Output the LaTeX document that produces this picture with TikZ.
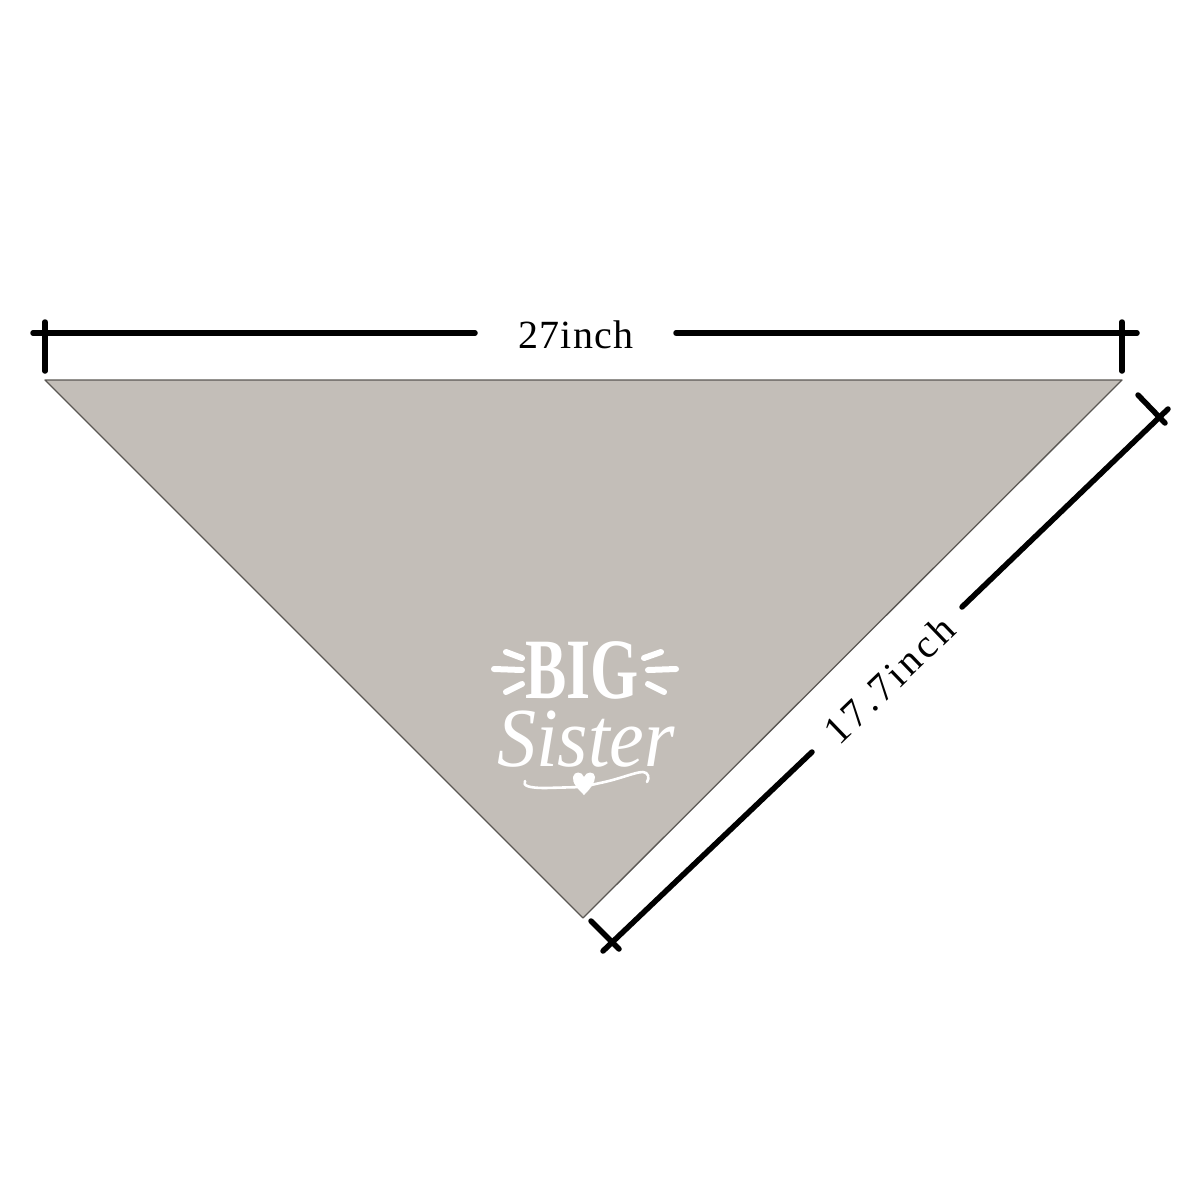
\documentclass[tikz,border=0pt]{standalone}
\usepackage{fontspec}
\setmainfont{Liberation Serif}
\usetikzlibrary{calc}
\definecolor{bandana}{HTML}{C3BEB8}
\definecolor{edgegray}{HTML}{5A5753}
\begin{document}
\begin{tikzpicture}[x=1pt,y=-1pt,
  dimline/.style={line width=5.5pt, line cap=round},
  tickline/.style={line width=5.5pt, line cap=round},
  dimlabel/.style={font=\fontsize{40}{40}\selectfont, inner sep=0pt},
  ray/.style={white, line width=6pt, line cap=round},
  flourish/.style={white, line width=2.6pt, line cap=round, line join=round}]
\useasboundingbox (0,0) rectangle (1200,1200);
% triangle
\coordinate (tl) at (45,380);
\coordinate (tr) at (1122,380);
\coordinate (bt) at (583,918);
\fill[bandana, draw=edgegray, line width=1.3pt, line join=round] (tl) -- (tr) -- (bt) -- cycle;
% top dimension
\coordinate (a1) at (33,333);
\coordinate (a2) at (475,333);
\coordinate (a3) at (676,333);
\coordinate (a4) at (1137,333);
\draw[dimline] (a1) -- (a2);
\draw[dimline] (a3) -- (a4);
\coordinate (k1a) at (45,322);
\coordinate (k1b) at (45,371);
\coordinate (k2a) at (1122,322);
\coordinate (k2b) at (1122,371);
\draw[tickline] (k1a) -- (k1b);
\draw[tickline] (k2a) -- (k2b);
\node[dimlabel, anchor=base] (w) at (576,348) {\addfontfeature{LetterSpace=3}27inch};
% diagonal dimension
\coordinate (c1) at (1159,417);
\coordinate (c2) at (612,943);
\coordinate (p1) at (1168,409);
\coordinate (p2) at (603,951);
\coordinate (g1) at (962,607);
\coordinate (g2) at (812,752);
\draw[dimline] (p1) -- (g1);
\draw[dimline] (g2) -- (p2);
\coordinate (d1a) at (1138,395);
\coordinate (d1b) at (1165,423);
\coordinate (d2a) at (591,921);
\coordinate (d2b) at (619,949);
\draw[tickline] (d1a) -- (d1b);
\draw[tickline] (d2a) -- (d2b);
\node[dimlabel, rotate=43.9] (h) at (889,680) {\addfontfeature{LetterSpace=9}17.7inch};
% logo
\node[white, anchor=base, inner sep=0pt, xscale=0.72, font=\fontsize{86}{86}\selectfont\bfseries] (big) at (582,698) {BIG};
\node[white, anchor=base, inner sep=0pt, xscale=0.93, font=\fontsize{84}{84}\selectfont\itshape] (sis) at (586,766) {Sister};
\coordinate (r1a) at (506,652); \coordinate (r1b) at (522,658);
\coordinate (r2a) at (494,669); \coordinate (r2b) at (522,670);
\coordinate (r3a) at (506,692); \coordinate (r3b) at (522,684);
\coordinate (r4a) at (644,658); \coordinate (r4b) at (661,652);
\coordinate (r5a) at (648,670); \coordinate (r5b) at (676,669);
\coordinate (r6a) at (648,684); \coordinate (r6b) at (664,692);
\foreach \i in {1,...,6} {\draw[ray] (r\i a) -- (r\i b);}
% flourish with heart
\coordinate (f1) at (525,781);
\coordinate (fh) at (582,787);
\coordinate (f2) at (643,772);
\coordinate (f3) at (647,782);
\draw[flourish] (f1) .. controls (522,786) and (530,788) .. (545,788)
  -- (fh) -- (600,783) .. controls (620,779) and (635,772) .. (f2)
  .. controls (648,772) and (650,778) .. (f3);
\fill[white] (584,795) .. controls (578,789) and (572,783) .. (573,777)
  .. controls (574,771) and (582,771) .. (584,777)
  .. controls (586,771) and (595,771) .. (595,777)
  .. controls (595,783) and (590,789) .. (584,795) -- cycle;
\end{tikzpicture}
\end{document}
